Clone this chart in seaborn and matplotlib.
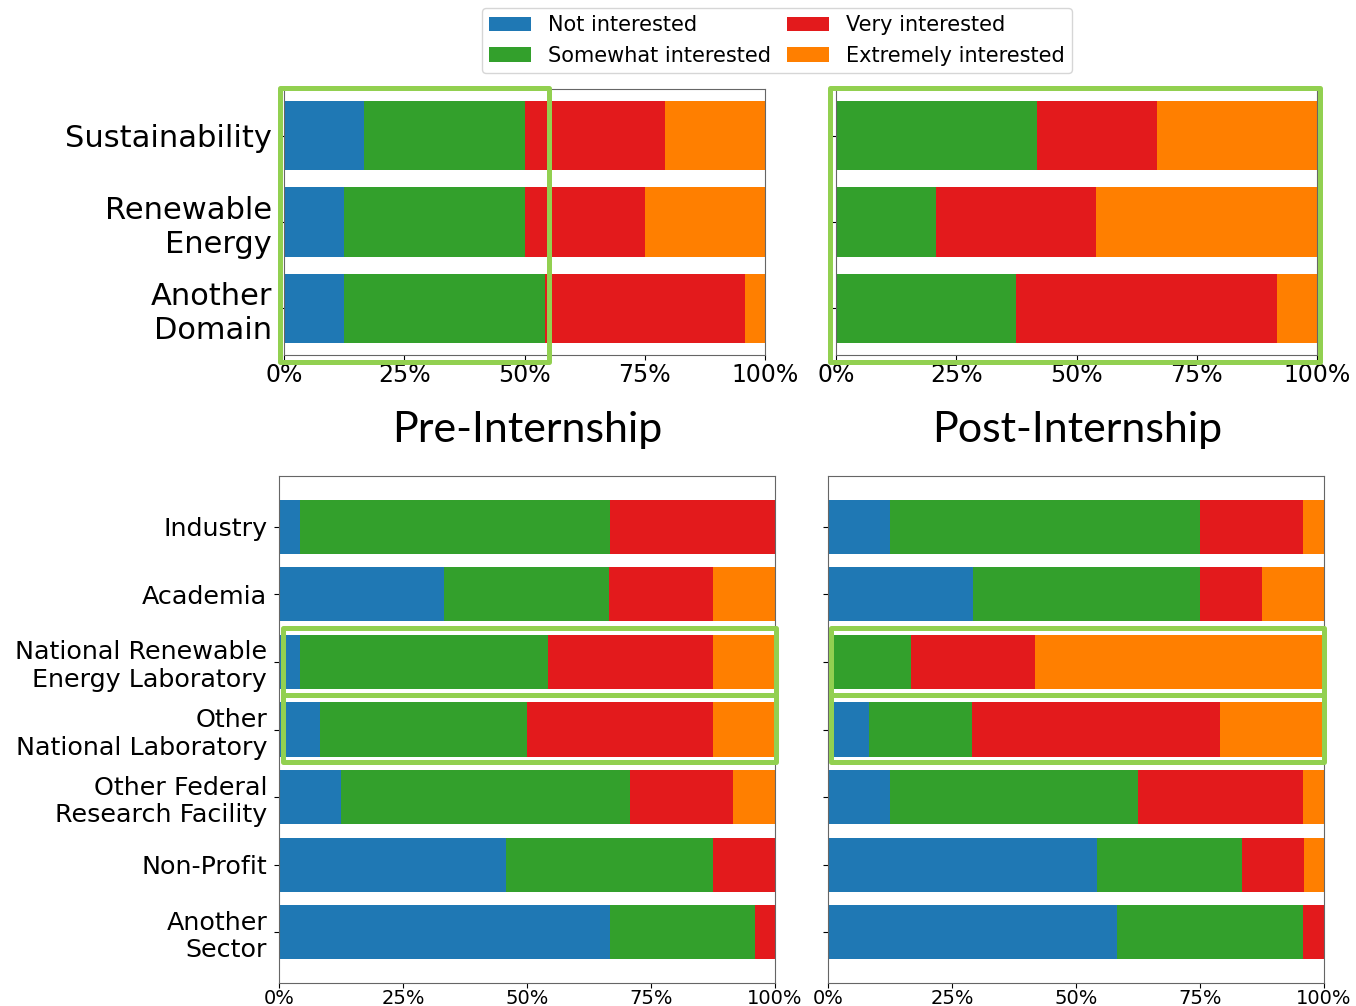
import pandas as pd
import seaborn as sns
import matplotlib.pyplot as plt
import matplotlib.transforms as mtransforms
from matplotlib.patches import Patch, Rectangle
from matplotlib.ticker import PercentFormatter, FixedLocator

# interest levels and their colours (Paired palette, dark shades)
levels = ["Not interested", "Somewhat interested", "Very interested", "Extremely interested"]
pal = sns.color_palette("Paired")
colors = [pal[1], pal[3], pal[5], pal[7]]

# top row: research domains (percent of respondents)
domains = ["Sustainability", "Renewable\nEnergy", "Another\nDomain"]
pre_domain_not = [16.7, 12.5, 12.5]
pre_domain_some = [33.3, 37.5, 41.7]
pre_domain_very = [29.2, 25.0, 41.7]
pre_domain_ext = [20.8, 25.0, 4.2]

post_domain_not = [0.0, 0.0, 0.0]
post_domain_some = [41.7, 20.8, 37.5]
post_domain_very = [25.0, 33.3, 54.2]
post_domain_ext = [33.3, 45.8, 8.3]

# bottom row: career sectors (percent of respondents)
sectors = ["Industry", "Academia", "National Renewable\nEnergy Laboratory",
           "Other\nNational Laboratory", "Other Federal\nResearch Facility",
           "Non-Profit", "Another\nSector"]
pre_sector_not = [4.2, 33.3, 4.2, 8.3, 12.5, 45.8, 66.7]
pre_sector_some = [62.5, 33.3, 50.0, 41.7, 58.3, 41.7, 29.2]
pre_sector_very = [33.3, 20.8, 33.3, 37.5, 20.8, 12.5, 4.2]
pre_sector_ext = [0.0, 12.5, 12.5, 12.5, 8.3, 0.0, 0.0]

post_sector_not = [12.5, 29.2, 0.0, 8.3, 12.5, 54.2, 58.3]
post_sector_some = [62.5, 45.8, 16.7, 20.8, 50.0, 29.2, 37.5]
post_sector_very = [20.8, 12.5, 25.0, 50.0, 33.3, 12.5, 4.2]
post_sector_ext = [4.2, 12.5, 58.3, 20.8, 4.2, 4.2, 0.0]

W, H = 1356, 1006
fig = plt.figure(figsize=(W / 100, H / 100), dpi=100)


def px_axes(x0, y0, x1, y1):
    # axes from pixel box (top-left origin)
    return fig.add_axes([x0 / W, 1 - y1 / H, (x1 - x0) / W, (y1 - y0) / H])


def stacked(ax, cats, parts, ylab_size, xtick_size, margin, xpad, show_labels=True):
    df = pd.DataFrame(dict(zip(levels, parts)), index=cats)
    cum = df.cumsum(axis=1)
    # draw longest cumulative bar first so shorter ones sit on top
    for lvl, col in reversed(list(zip(levels, colors))):
        sns.barplot(x=cum[lvl].values, y=cats, color=col, saturation=1,
                    orient="h", width=0.8, errorbar=None, ax=ax)
    n = len(cats)
    ax.set_xlim(0, 100)
    ax.set_ylim(n - 1 + margin, -margin)
    ax.xaxis.set_major_locator(FixedLocator([0, 25, 50, 75, 100]))
    ax.xaxis.set_major_formatter(PercentFormatter(decimals=0))
    ax.set_xlabel("")
    ax.set_ylabel("")
    ax.tick_params(axis="x", labelsize=xtick_size, pad=xpad)
    ax.tick_params(axis="y", labelsize=ylab_size, labelleft=show_labels, pad=5)
    for sp in ax.spines.values():
        sp.set_color("0.4")


hl = "#92d050"

ax_tl = px_axes(284, 89, 765, 355)
stacked(ax_tl, domains, [pre_domain_not, pre_domain_some, pre_domain_very, pre_domain_ext],
        22, 17, 0.54, 2)
ax_tr = px_axes(836, 89, 1317, 355)
stacked(ax_tr, domains, [post_domain_not, post_domain_some, post_domain_very, post_domain_ext],
        22, 17, 0.54, 2, show_labels=False)

ax_bl = px_axes(279, 476, 775, 983)
stacked(ax_bl, sectors, [pre_sector_not, pre_sector_some, pre_sector_very, pre_sector_ext],
        18.3, 14, 0.755, 0.5)
ax_br = px_axes(828, 476, 1324, 983)
stacked(ax_br, sectors, [post_sector_not, post_sector_some, post_sector_very, post_sector_ext],
        18.3, 14, 0.755, 0.5, show_labels=False)

# highlight boxes
for ax, x0, x1 in [(ax_tl, -0.8, 55.0), (ax_tr, -1.2, 100.6)]:
    tr = mtransforms.blended_transform_factory(ax.transData, ax.transAxes)
    ax.add_patch(Rectangle((x0, -0.026), x1 - x0, 1.03, transform=tr, fill=False,
                           edgecolor=hl, lw=3.6, clip_on=False, zorder=6, joinstyle="round"))
for ax, x0, x1 in [(ax_bl, 0.8, 100.3), (ax_br, 0.6, 100.0)]:
    for y0, y1 in [(1.50, 2.49), (2.49, 3.48)]:
        ax.add_patch(Rectangle((x0, y0), x1 - x0, y1 - y0, fill=False, edgecolor=hl,
                               lw=3.6, clip_on=False, zorder=6, joinstyle="round"))

fig.text(527 / W, 1 - 430 / H, "Pre-Internship", family=["Lato", "DejaVu Sans"],
         fontsize=31, ha="center", va="center")
fig.text(1077 / W, 1 - 430 / H, "Post-Internship", family=["Lato", "DejaVu Sans"],
         fontsize=31, ha="center", va="center")

handles = [Patch(facecolor=c, label=l) for l, c in zip(levels, colors)]
fig.legend(handles=handles, loc="upper center", bbox_to_anchor=(777 / W, 1 - 8 / H), ncol=2,
           fontsize=15, columnspacing=0.8, handlelength=2.0, handleheight=0.7,
           handletextpad=0.8, labelspacing=0.5, borderpad=0.35, borderaxespad=0)

fig.savefig("out.png", dpi=100)
